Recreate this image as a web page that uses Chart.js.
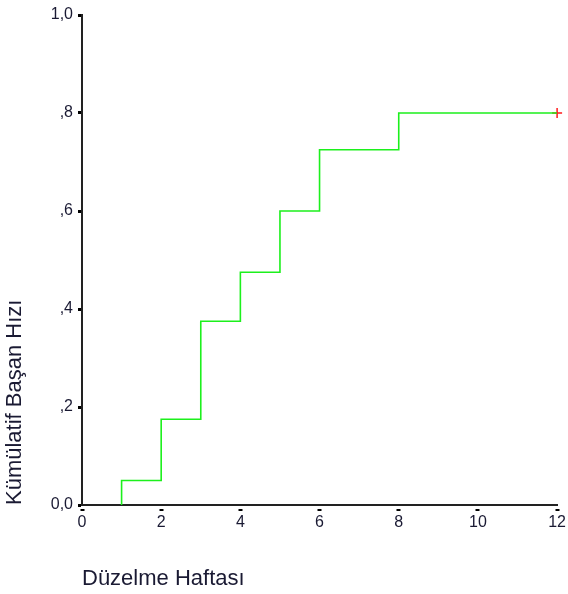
<!DOCTYPE html>
<html>
<head>
<meta charset="utf-8">
<script src="https://cdn.jsdelivr.net/npm/chart.js@4"></script>
<style>
  body { margin: 0; background: #fff; }
  #wrap { width: 568px; height: 594px; }
</style>
</head>
<body>
<div id="wrap"><canvas id="myChart" width="568" height="594"></canvas></div>
<script>
// event weeks and cumulative rate after each event
var eventWeeks = [1, 2, 3, 4, 5, 6, 8];
var cumRate = [0.05, 0.175, 0.375, 0.475, 0.6, 0.725, 0.8];
// last (censored) observation
var censorWeek = [12];
var censorRate = [0.8];

var yTickLabels = ['0,0', ',2', ',4', ',6', ',8', '1,0'];
var xTickLabels = ['0', '2', '4', '6', '8', '10', '12'];

var xTitle = 'Düzelme Haftası';
var yTitle = 'Kümülatif Başan Hızı';

// build step points: start at 0 at first event, then jump at each event
var stepPoints = [{ x: eventWeeks[0], y: 0 }];
eventWeeks.forEach(function (w, i) {
  stepPoints.push({ x: w, y: cumRate[i] });
});
stepPoints.push({ x: censorWeek[0], y: censorRate[0] });

var censorPoints = censorWeek.map(function (w, i) {
  return { x: w, y: censorRate[i] };
});

var ctx = document.getElementById('myChart').getContext('2d');
var myChart = new Chart(ctx, {
  type: 'scatter',
  data: {
    datasets: [{
      data: stepPoints,
      showLine: true,
      stepped: true,
      borderColor: '#1cf01c',
      borderWidth: 1.6,
      pointRadius: 0,
      fill: false
    }, {
      data: censorPoints,
      showLine: false,
      clip: false, // marker sits on the chart edge
      pointStyle: 'cross',
      pointRadius: 5,
      pointBorderColor: '#ff1a1a',
      pointBorderWidth: 1.5
    }]
  },
  options: {
    responsive: false,
    animation: false,
    layout: { padding: { top: 15, right: 9, bottom: 1, left: 0 } },
    plugins: {
      legend: { display: false },
      tooltip: { enabled: false }
    },
    scales: {
      x: {
        type: 'linear',
        min: 0,
        max: 12,
        afterFit: function (scale) { scale.height = 88; },
        ticks: {
          stepSize: 2,
          padding: 2,
          color: '#1a1a33',
          font: { family: 'Liberation Sans', size: 16 },
          callback: function (v) { return xTickLabels[v / 2]; },
          maxRotation: 0
        },
        grid: {
          drawOnChartArea: false,
          tickLength: 6,
          tickWidth: 4,
          tickColor: '#000',
          tickBorderDash: [0, 3, 2, 20]
        },
        border: { display: true, color: '#222', width: 2 },
        title: {
          display: true,
          text: xTitle,
          align: 'start',
          color: '#1a1a33',
          font: { family: 'Liberation Sans', size: 22 },
          padding: { top: 20, bottom: 1 }
        }
      },
      y: {
        min: 0,
        max: 1,
        afterFit: function (scale) { scale.width = 82; },
        ticks: {
          stepSize: 0.2,
          padding: 5,
          color: '#1a1a33',
          font: { family: 'Liberation Sans', size: 16 },
          callback: function (v) { return yTickLabels[Math.round(v * 5)]; }
        },
        grid: {
          drawOnChartArea: false,
          tickLength: 4,
          tickWidth: 3,
          tickColor: '#000'
        },
        border: { display: true, color: '#222', width: 2 },
        title: {
          display: true,
          text: yTitle,
          align: 'start',
          color: '#1a1a33',
          font: { family: 'Liberation Sans', size: 22 },
          padding: { top: 2, bottom: 0 }
        }
      }
    }
  }
});
</script>
</body>
</html>
